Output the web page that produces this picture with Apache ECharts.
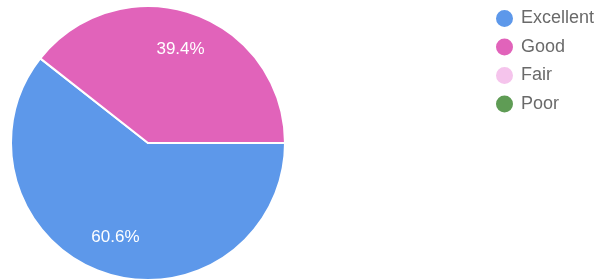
<!DOCTYPE html>
<html>
<head>
<meta charset="utf-8">
<script src="https://cdn.jsdelivr.net/npm/echarts@6/dist/echarts.min.js"></script>
<style>
    html, body { margin: 0; padding: 0; background: #fff; }
    #chart { width: 596px; height: 279px; }
</style>
</head>
<body>
<div id="chart"></div>
<script>
'use strict';
var categories = ['Excellent', 'Good', 'Fair', 'Poor'];
var shares = [60.6, 39.4, 0, 0];
var colors = ['#5d98ea', '#e163ba', '#f5c4ec', '#5f9c55'];

var pieChart = echarts.init(document.getElementById('chart'), null, {renderer: 'canvas'});

var pieData = categories.map(function (name, i) {
    return {name: name, value: shares[i], itemStyle: {color: colors[i]}};
});

function percentLabel(p) {
    if (!p.value) {
        return '';
    }
    return p.percent.toFixed(1) + '%';
}

var pieOptions = {
    animation: false,
    textStyle: {fontFamily: 'Liberation Sans, Arial, sans-serif'},
    legend: {
        orient: 'vertical',
        left: 489,
        top: 3,
        icon: 'circle',
        itemWidth: 19,
        itemHeight: 19,
        itemGap: 7.5,
        selectedMode: false,
        textStyle: {color: '#6a6a6a', fontSize: 18, lineHeight: 18, padding: [0, 0, 0, 2]},
        data: categories.map(function (name, i) {
            return {name: name, itemStyle: {color: colors[i]}};
        })
    },
    series: [
        {
            // the filled pie
            type: 'pie',
            center: [148, 143],
            radius: 137,
            startAngle: 0,
            clockwise: true,
            silent: true,
            itemStyle: {borderColor: '#fff', borderWidth: 2},
            label: {show: false},
            labelLine: {show: false},
            data: pieData
        },
        {
            // transparent ring used only to place the percent labels
            type: 'pie',
            center: [148, 143],
            radius: [56, 137],
            startAngle: 0,
            clockwise: true,
            silent: true,
            itemStyle: {color: 'transparent', borderWidth: 0},
            label: {
                show: true,
                position: 'inside',
                color: '#fff',
                fontSize: 17,
                formatter: percentLabel
            },
            labelLine: {show: false},
            data: categories.map(function (name, i) {
                return {name: name, value: shares[i]};
            })
        }
    ]
};
pieChart.setOption(pieOptions);
</script>
</body>
</html>
